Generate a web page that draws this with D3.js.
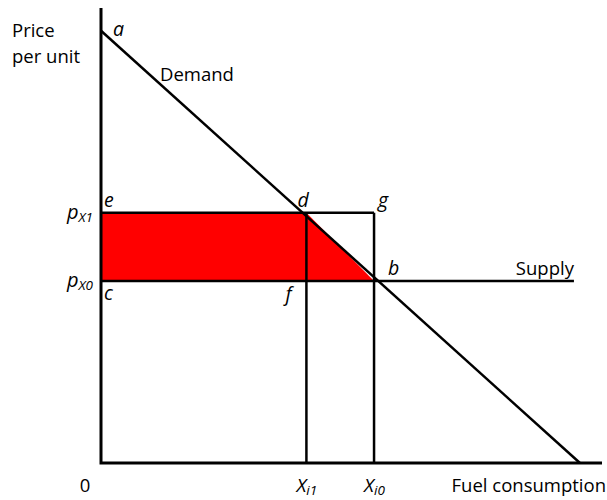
<!DOCTYPE html>
<html>
<head>
<meta charset="utf-8">
<script src="https://cdn.jsdelivr.net/npm/d3@7"></script>
<style>
  body { margin: 0; background: #fff; }
  text { font-family: "Open Sans", "Noto Sans", sans-serif; fill: #000; }
</style>
</head>
<body>
<div id="chart"></div>
<script>
// quantities (x) and prices (y) in chart units, 0..100
const xMax = 100, yMax = 100;
const demandQty = [0, 95.6];
const demandPrice = [95, 0];
const supplyQty = [0, 94.4];
const supplyPrice = [40, 40];
const priceNames = ['X1', 'X0'];
const priceValues = [55, 40];
const qtyNames = ['i1', 'i0'];
const qtyValues = [41, 54.5];
// corner letters and where they sit
const pointNames = ['a', 'e', 'd', 'g', 'c', 'f', 'b'];
const pointQty = [0, 0, 41, 54.5, 0, 41, 54.5];
const pointPrice = [95, 55, 55, 55, 40, 40, 40];

const width = 607, height = 500;
const margin = { top: 8, right: 5, bottom: 37, left: 101 };

const xScale = d3.scaleLinear().domain([0, xMax]).range([margin.left, width - margin.right]);
const yScale = d3.scaleLinear().domain([0, yMax]).range([height - margin.bottom, margin.top]);

const svg = d3.select('#chart').append('svg')
    .attr('width', width)
    .attr('height', height);

// red area: rectangle e-d-f-c plus triangle d-b-f
const pX1 = priceValues[0], pX0 = priceValues[1];
const qI1 = qtyValues[0], qI0 = qtyValues[1];
const area = [[0, pX1], [qI1, pX1], [qI0, pX0], [0, pX0]];
svg.append('path')
    .attr('d', d3.line().x(d => xScale(d[0])).y(d => yScale(d[1]))(area) + 'Z')
    .attr('fill', '#ff0000');

const seg = (x1, y1, x2, y2, w) => svg.append('line')
    .attr('x1', xScale(x1)).attr('y1', yScale(y1))
    .attr('x2', xScale(x2)).attr('y2', yScale(y2))
    .attr('stroke', '#000').attr('stroke-width', w);

// guide lines
seg(0, pX1, qI0, pX1, 2.5);
seg(qI1, pX1, qI1, 0, 2.5);
seg(qI0, pX1, qI0, 0, 2.5);
// supply and demand
seg(supplyQty[0], supplyPrice[0], supplyQty[1], supplyPrice[1], 2.5);
seg(demandQty[0], demandPrice[0], demandQty[1], demandPrice[1], 2.5);
// axes
svg.append('path')
    .attr('d', `M${xScale(0)},${yScale(yMax)}V${yScale(0)}H${xScale(xMax)}`)
    .attr('fill', 'none')
    .attr('stroke', '#000')
    .attr('stroke-width', 3);

const fs = 18.5;
const label = (x, y, t, opts = {}) => svg.append('text')
    .attr('x', x).attr('y', y)
    .attr('text-anchor', opts.anchor || 'start')
    .style('font-size', (opts.size || fs) + 'px')
    .style('font-style', opts.italic ? 'italic' : 'normal')
    .text(t);

// axis titles
label(12, 37, 'Price');
label(12, 63, 'per unit');
label(606, 492, 'Fuel consumption', { anchor: 'end' });
label(xScale(0) - 16, 492, '0', { anchor: 'middle' });
label(160, 81, 'Demand');
label(xScale(supplyQty[1]), yScale(supplyPrice[1]) - 6, 'Supply', { anchor: 'end' });

// price ticks
priceNames.forEach((n, i) => {
    const t = svg.append('text')
        .attr('x', 67)
        .attr('y', yScale(priceValues[i]) + 6)
        .style('font-size', '20px');
    t.append('tspan').text('p').style('font-style', 'italic');
    t.append('tspan').text(n).attr('dy', 3).style('font-size', '13.5px').style('font-style', 'italic');
});

// quantity ticks
qtyNames.forEach((n, i) => {
    const t = svg.append('text')
        .attr('x', xScale(qtyValues[i]) - 10)
        .attr('y', 492)
        .style('font-size', '19px');
    t.append('tspan').text('X').style('font-style', 'italic');
    t.append('tspan').text(n).attr('dy', 3).style('font-size', '13.5px').style('font-style', 'italic');
});

// corner letters
const offsets = {
    a: [12, 5], e: [3, -6], d: [-9, -6], g: [4, -6],
    c: [3, 19], f: [-21, 20], b: [14, -6]
};
pointNames.forEach((n, i) => {
    const o = offsets[n];
    label(xScale(pointQty[i]) + o[0], yScale(pointPrice[i]) + o[1], n, { italic: true, size: 19.5 });
});
</script>
</body>
</html>
